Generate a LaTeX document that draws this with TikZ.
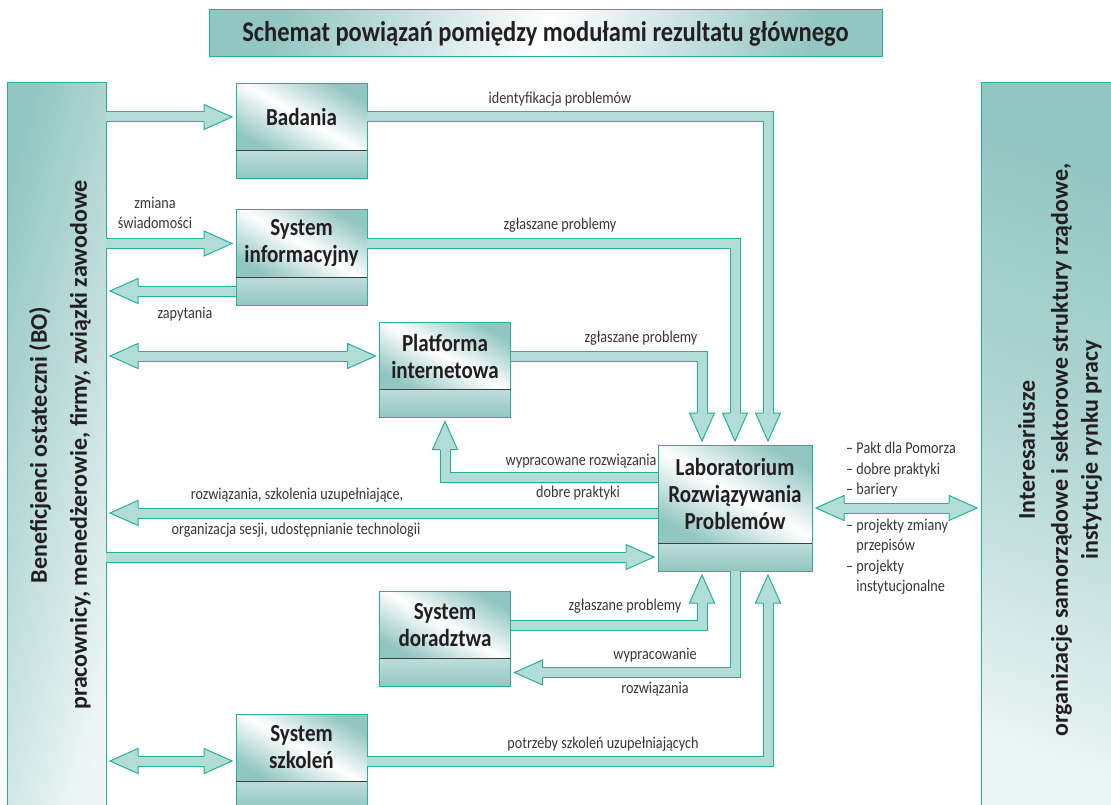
\documentclass[tikz,border=0pt]{standalone}
\usepackage{fontspec}
\setmainfont{Carlito}
\newfontfamily\narrowfont{Carlito}[FakeStretch=0.86]
\usetikzlibrary{positioning,calc}

\definecolor{tline}{RGB}{35,178,152}
\definecolor{tfill}{RGB}{178,220,216}
\definecolor{tbox}{RGB}{146,198,194}
\definecolor{ink}{RGB}{35,31,32}

\tikzset{
  panel/.style={draw=tline, line width=1pt, outer sep=0pt, inner sep=0pt},
  paneltext/.style={rotate=90, align=center, text=ink, font=\bfseries\fontsize{24}{35}\selectfont},
  modbox/.style={draw=tline, line width=1pt, outer sep=0pt, minimum width=131pt, minimum height=67pt,
    top color=tbox, bottom color=tbox, middle color=white, shading angle=-30,
    align=center, text=ink, font=\narrowfont\bfseries\fontsize{24.5}{27}\selectfont},
  modfoot/.style={draw=tline, line width=1pt, outer sep=0pt, minimum width=131pt, minimum height=28pt,
    top color=tbox!60!white, bottom color=tbox},
  sepline/.style={draw=black!75, line width=1pt},
  flow/.style={draw=tline, line width=1pt, double=tfill, double distance=9pt, line join=miter, shorten >=24pt},
  twoway/.style={flow, shorten <=24pt},
  lbl/.style={font=\narrowfont\fontsize{16.5}{20.5}\selectfont, text=ink!90, align=center, inner sep=0pt},
  head/.pic={
    \fill[tfill] (-4pt,0pt) -- (-32pt,12.5pt) -- (-32pt,-12.5pt) -- cycle;
    \draw[tline, line width=1pt, line join=miter] (-32pt,5pt) -- (-32pt,12.5pt) -- (-4pt,0pt) -- (-32pt,-12.5pt) -- (-32pt,-5pt);
  }
}

\begin{document}
\begin{tikzpicture}[x=1pt, y=-1pt]
  \useasboundingbox (0,0) rectangle (1111,805);
  \clip (0,0) rectangle (1111,805);

  % title
  \node[draw=tline, line width=1pt, minimum width=673pt, minimum height=47pt,
    left color=tbox, right color=tbox, middle color=white, shading angle=70,
    text=ink, font=\narrowfont\bfseries\fontsize{28.5}{32}\selectfont] (title) at (545.5,33.5)
    {Schemat powiązań pomiędzy modułami rezultatu głównego};

  % side panels
  \node[panel, minimum width=99pt, minimum height=730pt,
    left color=tbox, right color=tbox!15!white, shading angle=75] (benef) at (56.5,448) {};
  \node[paneltext] (beneft) at (60,445)
    {Beneficjenci ostateczni (BO)\\[5pt]pracownicy, menedżerowie, firmy, związki zawodowe};
  \node[panel, minimum width=155pt, minimum height=730pt,
    top color=tbox, bottom color=tbox!20!white, middle color=tbox!70!white, shading angle=-20] (inter) at (1058.5,448) {};
  \node[paneltext, font=\bfseries\fontsize{24}{30}\selectfont] (intert) at (1060,450)
    {Interesariusze\\[3pt]organizacje samorządowe i sektorowe struktury rządowe,\\instytucje rynku pracy};

  % modules
  \node[modbox] (bad) at (301.5,117) {Badania};
  \node[modfoot, below=0pt of bad] (badf) {};
  \node[modbox] (info) at (301.5,243.5) {System\\informacyjny};
  \node[modfoot, below=0pt of info] (infof) {};
  \node[modbox] (plat) at (445,356) {Platforma\\internetowa};
  \node[modfoot, below=0pt of plat] (platf) {};
  \node[modbox] (dorad) at (445,625) {System\\doradztwa};
  \node[modfoot, below=0pt of dorad] (doradf) {};
  \node[modbox] (szkol) at (301.5,747.5) {System\\szkoleń};
  \node[modfoot, below=0pt of szkol] (szkolf) {};
  \node[modbox, minimum width=154pt, minimum height=98pt] (lab) at (735,494) {Laboratorium\\Rozwiązywania\\Problemów};
  \node[modfoot, minimum width=154pt, below=0pt of lab] (labf) {};
  \foreach \b in {badf,infof,platf,doradf,szkolf,labf}
    \draw[sepline] (\b.north west) -- (\b.north east);

  % helper points
  \coordinate (labup) at ($(lab.west)+(0,-17)$);
  \coordinate (labout) at ($(lab.west)+(0,19)$);
  \coordinate (labr) at ($(lab.east)+(0,14)$);
  \coordinate (szkr) at ($(szkol.east)+(0,13.5)$);
  \coordinate (szkl) at ($(szkol.west)+(0,13.5)$);

  % flows from the left panel
  \draw[flow] (benef.east |- bad.west) -- (bad.west);
  \pic at (bad.west) {head};
  \draw[flow] (benef.east |- info.west) -- (info.west);
  \pic at (info.west) {head};
  \draw[flow] (infof.west) -- (benef.east |- infof.west);
  \pic[rotate=180] at (benef.east |- infof.west) {head};
  \draw[twoway] (benef.east |- plat.west) -- (plat.west);
  \pic at (plat.west) {head};
  \pic[rotate=180] at (benef.east |- plat.west) {head};
  \draw[flow] (labout) -- (benef.east |- labout);
  \pic[rotate=180] at (benef.east |- labout) {head};
  \draw[flow] (benef.east |- labf.west) -- (labf.west);
  \pic at (labf.west) {head};
  \draw[twoway] (benef.east |- szkl) -- (szkl);
  \pic at (szkl) {head};
  \pic[rotate=180] at (benef.east |- szkl) {head};

  % flows into the laboratory
  \draw[flow] (bad.east) -| ($(lab.north)+(33,0)$);
  \pic[rotate=-90] at ($(lab.north)+(33,0)$) {head};
  \draw[flow] (info.east) -| (lab.north);
  \pic[rotate=-90] at (lab.north) {head};
  \draw[flow] (plat.east) -| ($(lab.north)+(-33,0)$);
  \pic[rotate=-90] at ($(lab.north)+(-33,0)$) {head};
  \draw[flow] (labup) -| (platf.south);
  \pic[rotate=90] at (platf.south) {head};
  \draw[flow] (dorad.east) -| ($(labf.south)+(-33,0)$);
  \pic[rotate=90] at ($(labf.south)+(-33,0)$) {head};
  \draw[flow] (labf.south) |- (doradf.east);
  \pic[rotate=180] at (doradf.east) {head};
  \draw[flow] (szkr) -| ($(labf.south)+(33,0)$);
  \pic[rotate=90] at ($(labf.south)+(33,0)$) {head};
  \draw[twoway] (labr) -- (inter.west |- labr);
  \pic at (inter.west |- labr) {head};
  \pic[rotate=180] at (labr) {head};

  % labels
  \node[lbl] (l1) at (560,99) {identyfikacja problemów};
  \node[lbl] (l2) at (155,213) {zmiana\\świadomości};
  \node[lbl] (l3) at (560,225) {zgłaszane problemy};
  \node[lbl] (l4) at (185,314) {zapytania};
  \node[lbl] (l5) at (641,338) {zgłaszane problemy};
  \node[lbl] (l6) at (581,461) {wypracowane rozwiązania};
  \node[lbl] (l7) at (578,493) {dobre praktyki};
  \node[lbl] (l8) at (297,495) {rozwiązania, szkolenia uzupełniające,};
  \node[lbl] (l9) at (296,530) {organizacja sesji, udostępnianie technologii};
  \node[lbl] (l10) at (625,606) {zgłaszane problemy};
  \node[lbl] (l11) at (655,655) {wypracowanie};
  \node[lbl] (l12) at (655,689) {rozwiązania};
  \node[lbl] (l13) at (603,744) {potrzeby szkoleń uzupełniających};
  \node[lbl, anchor=west, align=left] (l14) at (846,470) {– Pakt dla Pomorza\\– dobre praktyki\\– bariery};
  \node[lbl, anchor=west, align=left] (l15) at (846,556.5)
    {– projekty zmiany\\\phantom{– }przepisów\\– projekty\\\phantom{– }instytucjonalne};
\end{tikzpicture}
\end{document}
